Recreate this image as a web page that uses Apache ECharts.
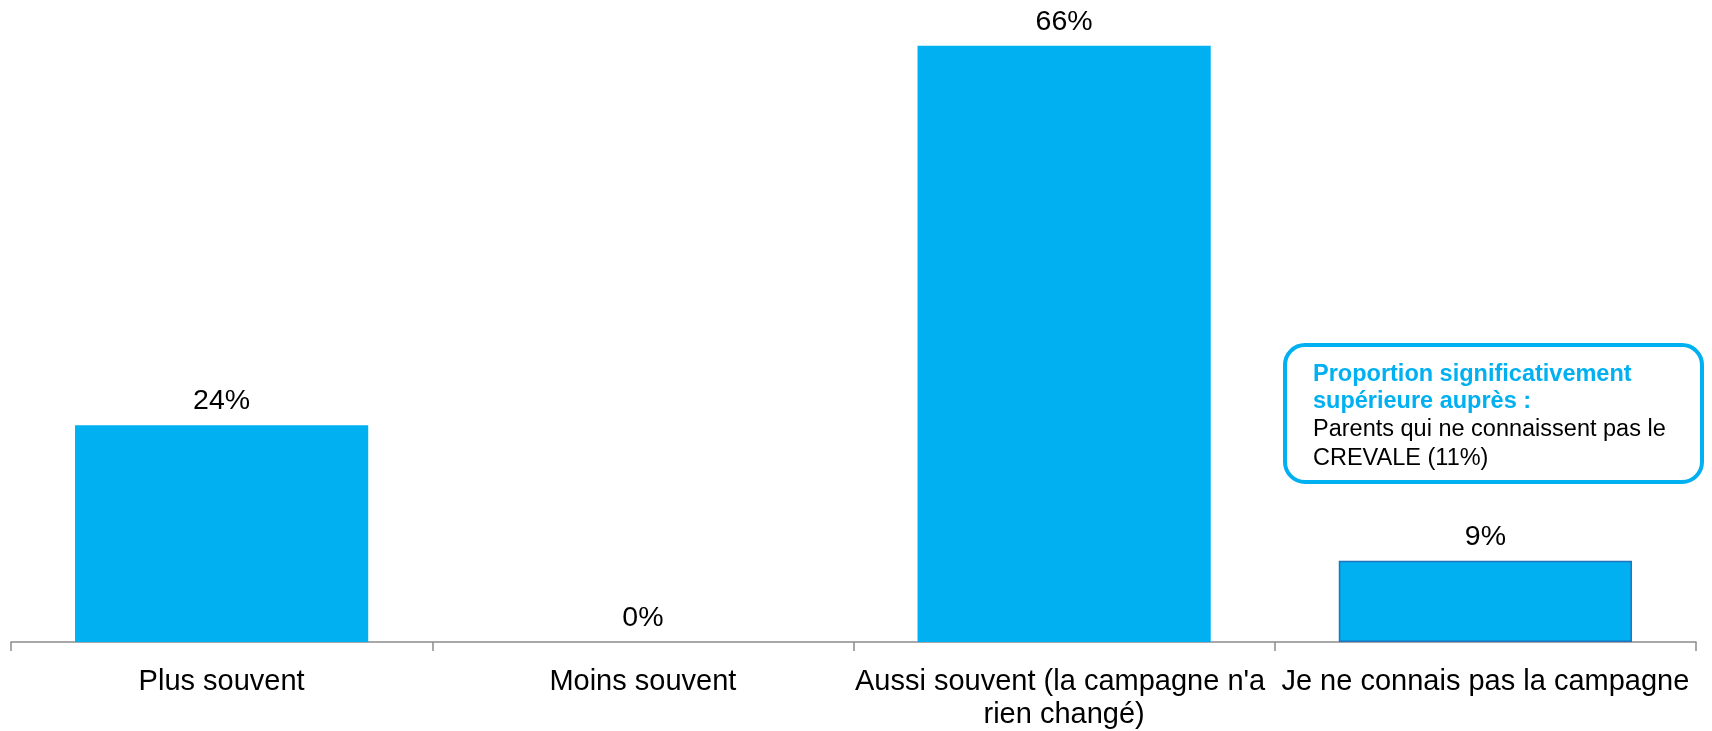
<!DOCTYPE html>
<html>
<head>
<meta charset="utf-8">
<script src="https://cdn.jsdelivr.net/npm/echarts@6/dist/echarts.min.js"></script>
<style>
html,body{margin:0;padding:0;background:#fff;}
#c{width:1712px;height:731px;}
</style>
</head>
<body>
<div id="c"></div>
<script>
const categories = [
  "Plus souvent",
  "Moins souvent",
  "Aussi souvent (la campagne n'a rien changé)",
  "Je ne connais pas la campagne"
];
const values = [24, 0, 66, 9];
const noteTitle = ["Proportion significativement", "supérieure auprès :"];
const noteBody = ["Parents qui ne connaissent pas le", "CREVALE (11%)"];

const FONT = "'Liberation Sans', Arial, sans-serif";
const chart = echarts.init(document.getElementById('c'));

const barData = values.map((v, i) => {
  const d = { value: v };
  if (i === 3) d.itemStyle = { borderColor: '#1f74bd', borderWidth: 1.5 };
  return d;
});

const noteText = noteTitle.map(t => '{b|' + t + '}').concat(noteBody.map(t => '{n|' + t + '}')).join('\n');

chart.setOption({
  animation: false,
  backgroundColor: '#ffffff',
  grid: { left: 11, right: 16, top: 9.5, bottom: 86, containLabel: false },
  xAxis: {
    type: 'category',
    data: categories,
    axisLine: { lineStyle: { color: '#8c8c8c', width: 1.5 } },
    axisTick: { show: true, length: 9, lineStyle: { color: '#8c8c8c', width: 1.5 } },
    axisLabel: {
      interval: 0,
      color: '#000',
      fontFamily: FONT,
      fontSize: 29,
      lineHeight: 33,
      margin: 23,
      width: 425,
      overflow: 'break'
    }
  },
  yAxis: {
    type: 'value', min: 0, max: 70, show: false,
    splitLine: { show: false }
  },
  series: [{
    type: 'bar',
    data: barData,
    barCategoryGap: '30.4%',
    itemStyle: { color: '#00b0f0' },
    label: {
      show: true,
      position: 'top',
      distance: 9.5,
      formatter: '{c}%',
      color: '#000',
      fontFamily: FONT,
      fontSize: 28.5
    }
  }],
  graphic: [{
    type: 'group',
    children: [
      {
        type: 'rect',
        shape: { x: 1285, y: 345, width: 417, height: 137, r: 20 },
        style: { fill: '#ffffff', stroke: '#00b0f0', lineWidth: 4 }
      },
      {
        type: 'text',
        x: 1313, y: 360.5,
        style: {
          text: noteText,
          rich: {
            b: { fontFamily: FONT, fontSize: 23.5, fontWeight: 'bold', fill: '#00b0f0', lineHeight: 27.5 },
            n: { fontFamily: FONT, fontSize: 23.5, fill: '#000', lineHeight: 28.5 }
          }
        }
      }
    ]
  }]
});
</script>
</body>
</html>
